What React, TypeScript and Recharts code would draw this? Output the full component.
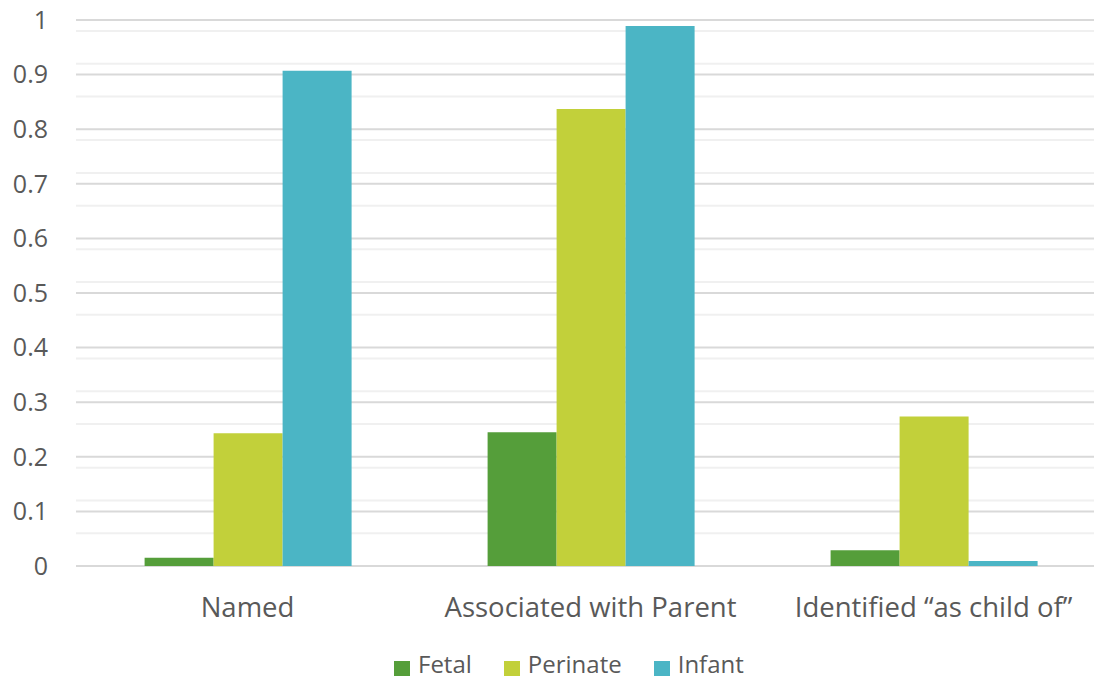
import { BarChart, Bar, XAxis, YAxis, CartesianGrid, Legend } from 'recharts';

const categories = ['Named', 'Associated with Parent', 'Identified “as child of”'];
const fetal = [0.015, 0.245, 0.029];
const perinate = [0.243, 0.837, 0.274];
const infant = [0.907, 0.989, 0.009];

const majorTicks = [0, 0.1, 0.2, 0.3, 0.4, 0.5, 0.6, 0.7, 0.8, 0.9, 1];
const minorTicks = [
  0.02, 0.04, 0.06, 0.08, 0.12, 0.14, 0.16, 0.18, 0.22, 0.24, 0.26, 0.28,
  0.32, 0.34, 0.36, 0.38, 0.42, 0.44, 0.46, 0.48, 0.52, 0.54, 0.56, 0.58,
  0.62, 0.64, 0.66, 0.68, 0.72, 0.74, 0.76, 0.78, 0.82, 0.84, 0.86, 0.88,
  0.92, 0.94, 0.96, 0.98,
];

const series = [
  { key: 'fetal', name: 'Fetal', color: '#559e3a' },
  { key: 'perinate', name: 'Perinate', color: '#c2d03a' },
  { key: 'infant', name: 'Infant', color: '#4bb5c5' },
];

const data = categories.map((name, i) => ({
  name,
  fetal: fetal[i],
  perinate: perinate[i],
  infant: infant[i],
}));

const font = '"Open Sans", sans-serif';

// legend row, nudged down a bit without changing its measured height
function LegendContent() {
  return (
    <div
      style={{
        display: 'flex',
        paddingLeft: 394,
        fontFamily: font,
        fontSize: 24,
        lineHeight: '30px',
        color: '#595959',
        transform: 'translateY(2px)',
      }}
    >
      {series.map((s) => (
        <div key={s.key} style={{ display: 'flex', alignItems: 'center', marginRight: 32 }}>
          <span
            style={{
              width: 16,
              height: 15,
              background: s.color,
              marginRight: 8,
              display: 'inline-block',
              position: 'relative',
              top: 4,
            }}
          />
          <span>{s.name}</span>
        </div>
      ))}
    </div>
  );
}

export default function App() {
  return (
    <div style={{ background: '#fff', width: 1094, height: 681, overflow: 'hidden' }}>
      <style>{'body { margin: 0; }'}</style>
      <BarChart
        width={1094}
        height={681}
        data={data}
        margin={{ top: 20, right: -11, bottom: 55, left: 0 }}
        barCategoryGap="20%"
        barGap={0}
      >
        <CartesianGrid vertical={false} horizontalValues={minorTicks} stroke="#f0f0f0" strokeWidth={2} />
        <CartesianGrid vertical={false} horizontalValues={majorTicks} stroke="#d9d9d9" strokeWidth={2} />
        <XAxis
          dataKey="name"
          axisLine={false}
          tickLine={false}
          tickMargin={25}
          interval={0}
          tick={{ fill: '#595959', fontSize: 27.5, fontFamily: font }}
        />
        <YAxis
          domain={[0, 1]}
          ticks={majorTicks}
          width={76}
          axisLine={false}
          tickLine={false}
          tickMargin={22}
          tick={{ fill: '#595959', fontSize: 25, fontFamily: font }}
        />
        <Legend
          verticalAlign="bottom"
          content={() => <LegendContent />}
          wrapperStyle={{ bottom: 4, left: 0, width: 1094 }}
        />
        {series.map((s) => (
          <Bar key={s.key} dataKey={s.key} name={s.name} fill={s.color} isAnimationActive={false} />
        ))}
      </BarChart>
    </div>
  );
}
